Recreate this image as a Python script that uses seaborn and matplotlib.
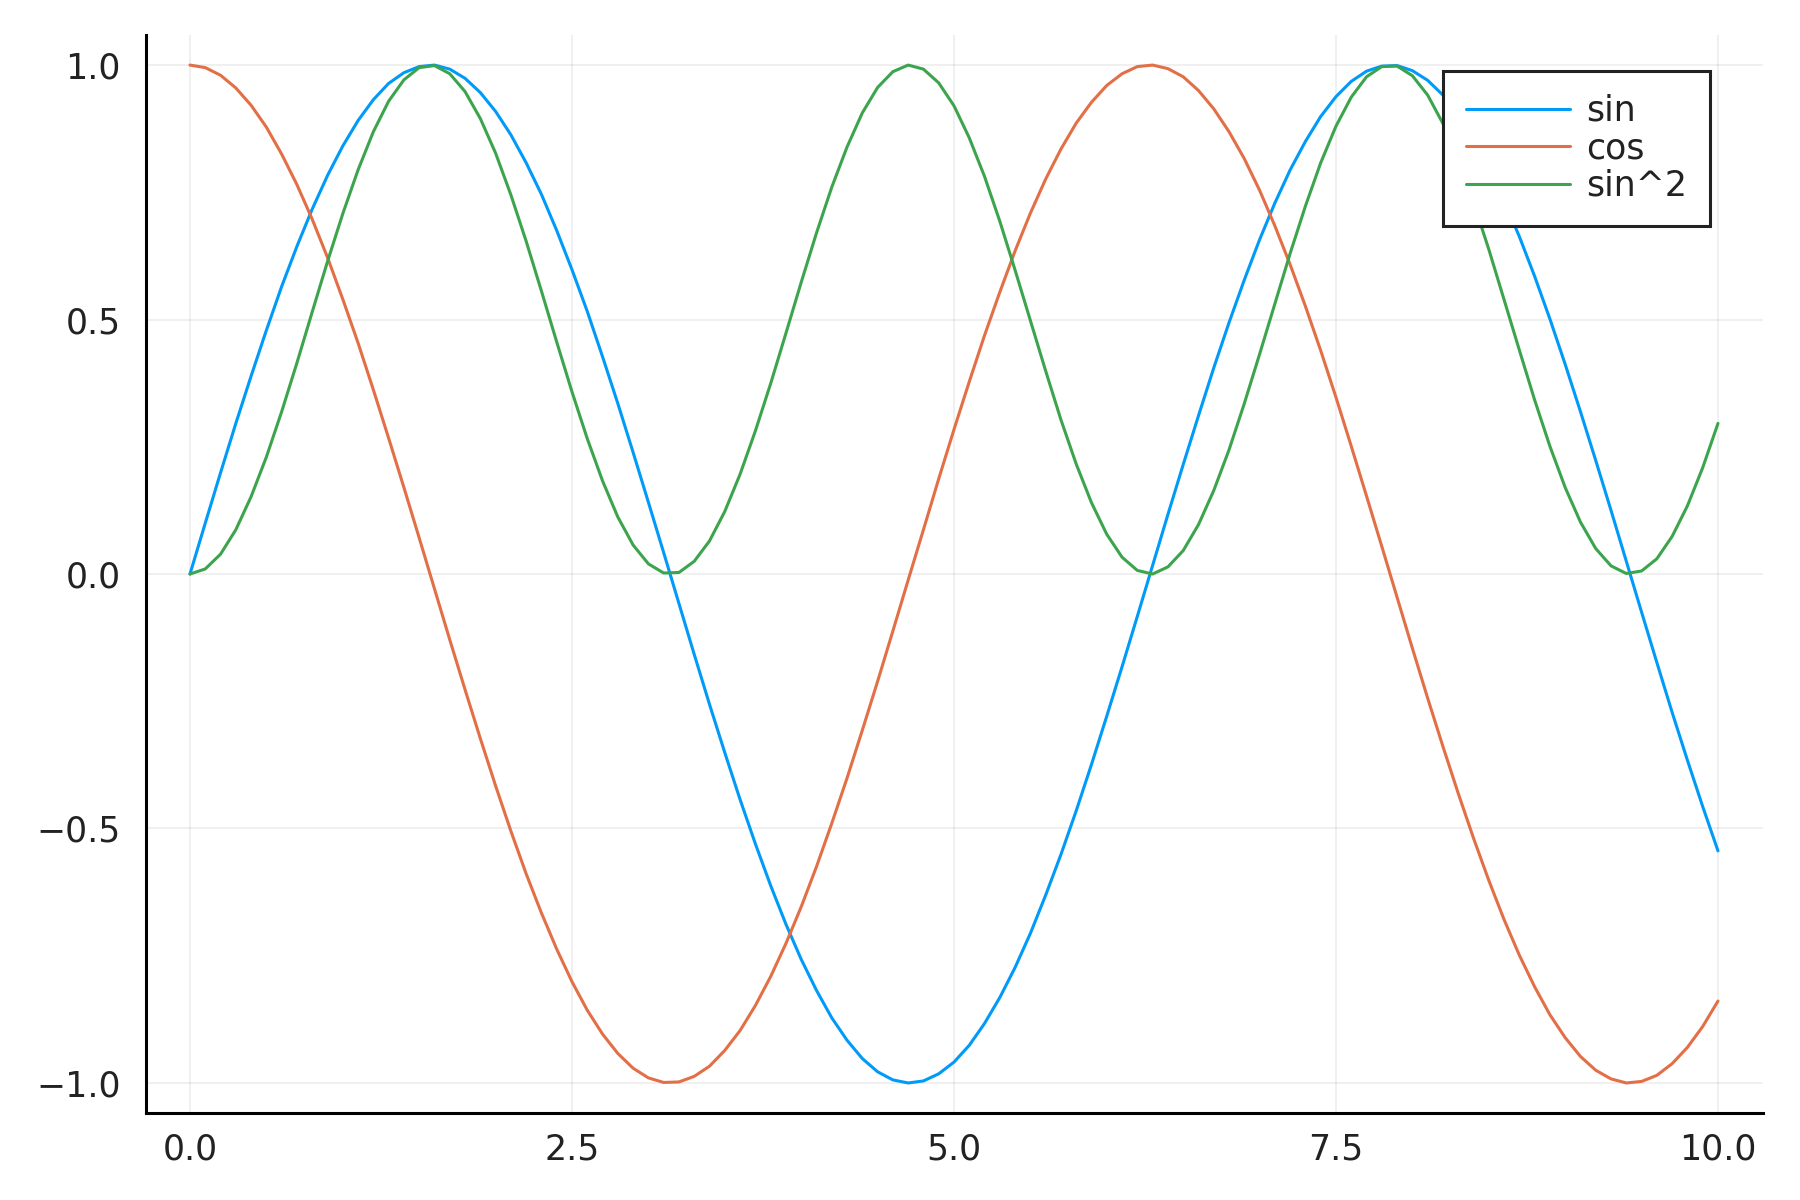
import numpy as np
import pandas as pd
import matplotlib
matplotlib.use("Agg")
import matplotlib.pyplot as plt
import seaborn as sns

# x sampled every 0.1 from 0 to 10
x_vals = np.round(np.arange(0, 101) * 0.1, 1)

sin_vals = [
    0.000, 0.100, 0.199, 0.296, 0.389, 0.479, 0.565, 0.644, 0.717, 0.783,
    0.841, 0.891, 0.932, 0.964, 0.985, 0.997, 1.000, 0.992, 0.974, 0.946,
    0.909, 0.863, 0.808, 0.746, 0.675, 0.598, 0.516, 0.427, 0.335, 0.239,
    0.141, 0.042, -0.058, -0.158, -0.256, -0.351, -0.443, -0.530, -0.612, -0.688,
    -0.757, -0.818, -0.872, -0.916, -0.952, -0.978, -0.994, -1.000, -0.996, -0.982,
    -0.959, -0.926, -0.883, -0.832, -0.773, -0.706, -0.631, -0.551, -0.465, -0.374,
    -0.279, -0.182, -0.083, 0.017, 0.117, 0.215, 0.311, 0.405, 0.494, 0.578,
    0.657, 0.729, 0.794, 0.850, 0.899, 0.938, 0.968, 0.988, 0.998, 0.999,
    0.989, 0.970, 0.941, 0.902, 0.855, 0.798, 0.734, 0.663, 0.585, 0.501,
    0.412, 0.319, 0.223, 0.125, 0.025, -0.075, -0.174, -0.272, -0.366, -0.457,
    -0.544,
]
cos_vals = [
    1.000, 0.995, 0.980, 0.955, 0.921, 0.878, 0.825, 0.765, 0.697, 0.622,
    0.540, 0.454, 0.362, 0.267, 0.170, 0.071, -0.029, -0.129, -0.227, -0.323,
    -0.416, -0.505, -0.589, -0.666, -0.737, -0.801, -0.857, -0.904, -0.942, -0.971,
    -0.990, -0.999, -0.998, -0.987, -0.967, -0.936, -0.897, -0.848, -0.791, -0.726,
    -0.654, -0.575, -0.490, -0.401, -0.307, -0.211, -0.112, -0.012, 0.087, 0.187,
    0.284, 0.378, 0.469, 0.554, 0.635, 0.709, 0.776, 0.835, 0.886, 0.927,
    0.960, 0.983, 0.997, 1.000, 0.993, 0.977, 0.950, 0.914, 0.869, 0.816,
    0.754, 0.684, 0.608, 0.526, 0.439, 0.347, 0.251, 0.153, 0.054, -0.046,
    -0.146, -0.244, -0.339, -0.431, -0.519, -0.602, -0.679, -0.749, -0.811, -0.866,
    -0.911, -0.948, -0.975, -0.992, -1.000, -0.997, -0.985, -0.962, -0.930, -0.889,
    -0.839,
]
sin2_vals = [
    0.000, 0.010, 0.039, 0.087, 0.152, 0.230, 0.319, 0.415, 0.515, 0.614,
    0.708, 0.794, 0.869, 0.929, 0.971, 0.995, 0.999, 0.983, 0.948, 0.895,
    0.827, 0.745, 0.654, 0.556, 0.456, 0.358, 0.266, 0.183, 0.112, 0.057,
    0.020, 0.002, 0.003, 0.025, 0.065, 0.123, 0.196, 0.281, 0.374, 0.473,
    0.573, 0.670, 0.760, 0.839, 0.906, 0.956, 0.987, 1.000, 0.992, 0.965,
    0.920, 0.857, 0.781, 0.693, 0.597, 0.498, 0.399, 0.303, 0.216, 0.140,
    0.078, 0.033, 0.007, 0.000, 0.014, 0.046, 0.097, 0.164, 0.244, 0.335,
    0.432, 0.531, 0.630, 0.723, 0.808, 0.880, 0.937, 0.977, 0.997, 0.998,
    0.979, 0.941, 0.885, 0.814, 0.730, 0.638, 0.539, 0.440, 0.342, 0.251,
    0.170, 0.102, 0.050, 0.016, 0.001, 0.006, 0.030, 0.074, 0.134, 0.209,
    0.296,
]

series_names = ["sin", "cos", "sin^2"]
series_colors = ["#009AF9", "#E26F46", "#3DA44E"]
x_ticks = [0.0, 2.5, 5.0, 7.5, 10.0]
y_ticks = [-1.0, -0.5, 0.0, 0.5, 1.0]

sns.set_style("white")
plt.rcParams["font.family"] = ["DejaVu Sans"]

fig = plt.figure(figsize=(18, 12), dpi=100)
ax = fig.add_axes([0.0811, 0.0725, 0.8983, 0.8983])

for name, vals, col in zip(series_names, [sin_vals, cos_vals, sin2_vals], series_colors):
    sns.lineplot(x=x_vals, y=vals, color=col, label=name, linewidth=2.2, ax=ax)

ax.set_xlim(-0.288, 10.294)
ax.set_ylim(-1.059, 1.059)
ax.set_xticks(x_ticks)
ax.set_yticks(y_ticks)
ax.set_xticklabels([f"{t:.1f}" for t in x_ticks])
ax.grid(True, color="black", alpha=0.06, linewidth=1.4)

for s in ["top", "right"]:
    ax.spines[s].set_visible(False)
for s in ["left", "bottom"]:
    ax.spines[s].set_color("black")
    ax.spines[s].set_linewidth(2.2)

ax.tick_params(axis="both", direction="in", length=7, width=1.6,
               color="black", labelsize=25, labelcolor="#222222")
ax.tick_params(axis="x", pad=14)
ax.tick_params(axis="y", pad=18)

handles, labels = ax.get_legend_handles_labels()
leg = ax.legend(handles, labels, loc="upper right", bbox_to_anchor=(0.967, 0.9666),
                borderaxespad=0, fancybox=False, fontsize=25, handlelength=3.0,
                handletextpad=0.45, labelspacing=0.1, borderpad=0.66,
                edgecolor="#222222", framealpha=1)
leg.get_frame().set_linewidth(2.2)
for t in leg.get_texts():
    t.set_color("#222222")

fig.savefig("out.png", dpi=100)
